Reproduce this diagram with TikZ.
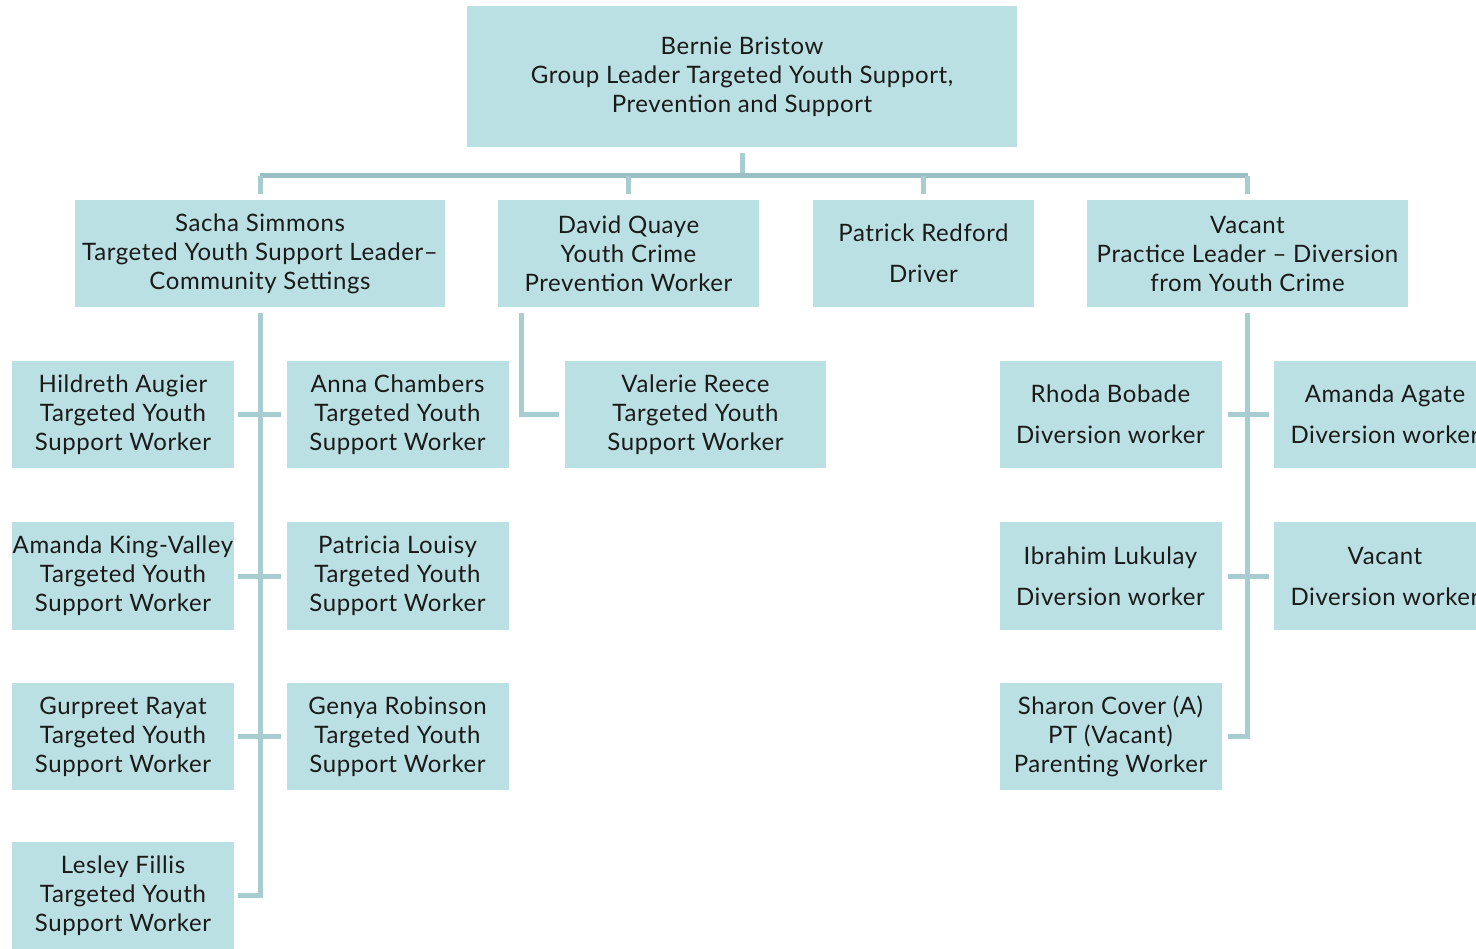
\documentclass[tikz,border=0pt]{standalone}
\usepackage{fontspec}
\setmainfont{Lato}[LetterSpace=2.5]
\definecolor{boxC}{HTML}{BBE0E3}
\definecolor{lineC}{HTML}{A8CDD1}
\definecolor{barC}{HTML}{99BEC3}
\definecolor{txtC}{HTML}{1A1A1A}
\begin{document}
\begin{tikzpicture}[x=1pt,y=-1pt,
  box/.style={fill=boxC,draw=none,inner sep=0pt,align=center,text=txtC,
    font=\fontsize{24}{29}\selectfont},
  conn/.style={draw=lineC,line width=5pt},
  bar/.style={draw=barC,line width=5pt}]
\useasboundingbox (0,0) rectangle (1476,949);
\clip (0,0) rectangle (1476,949);
% level 0
\node[box,minimum width=550pt,minimum height=141pt] (top) at (742,76.5) {Bernie Bristow\\Group Leader Targeted Youth Support,\\Prevention and Support};
% level 1
\node[box,minimum width=370pt,minimum height=107pt] (sacha) at (260,253.5) {Sacha Simmons\\Targeted Youth Support Leader--\\Community Settings};
\node[box,minimum width=261pt,minimum height=107pt] (david) at (628.5,253.5) {David Quaye\\Youth Crime\\Prevention Worker};
\node[box,minimum width=221pt,minimum height=107pt] (patrick) at (923.5,253.5) {Patrick Redford\\[12pt]Driver};
\node[box,minimum width=321pt,minimum height=107pt] (vacant) at (1247.5,253.5) {Vacant\\Practice Leader -- Diversion\\from Youth Crime};
% left group
\tikzset{wk/.style={box,minimum width=222pt,minimum height=107.5pt}}
\node[wk] (hild) at (123,414.5) {Hildreth Augier\\Targeted Youth\\Support Worker};
\node[wk] (anna) at (397.5,414.5) {Anna Chambers\\Targeted Youth\\Support Worker};
\node[wk] (king) at (123,576) {Amanda King-Valley\\Targeted Youth\\Support Worker};
\node[wk] (louisy) at (397.5,576) {Patricia Louisy\\Targeted Youth\\Support Worker};
\node[wk] (rayat) at (123,736.5) {Gurpreet Rayat\\Targeted Youth\\Support Worker};
\node[wk] (genya) at (397.5,736.5) {Genya Robinson\\Targeted Youth\\Support Worker};
\node[wk] (lesley) at (123,895.5) {Lesley Fillis\\Targeted Youth\\Support Worker};
% david group
\node[box,minimum width=261pt,minimum height=107.5pt] (valerie) at (695.5,414.5) {Valerie Reece\\Targeted Youth\\Support Worker};
% right group
\node[wk] (rhoda) at (1110.5,414.5) {Rhoda Bobade\\[12pt]Diversion worker};
\node[wk] (agate) at (1385,414.5) {Amanda Agate\\[12pt]Diversion worker};
\node[wk] (ibrahim) at (1110.5,576) {Ibrahim Lukulay\\[12pt]Diversion worker};
\node[wk] (vac2) at (1385,576) {Vacant\\[12pt]Diversion worker};
\node[wk] (sharon) at (1110.5,736.5) {Sharon Cover (A)\\PT (Vacant)\\Parenting Worker};
% connectors level 0 -> 1
\coordinate (barL) at (260,176);
\draw[conn] ([yshift=-6pt]top.south) -- (top.south |- barL);
\draw[bar] (sacha.north |- barL) -- (vacant.north |- barL);
\foreach \n in {sacha,david,patrick,vacant}
  \draw[conn,shorten >=6pt] (\n.north |- barL) -- (\n.north);
% left spine
\draw[conn] ([yshift=-6pt]sacha.south) |- ([xshift=4pt]lesley.east);
\draw[conn] ([xshift=4pt]hild.east) -- ([xshift=-5pt]anna.west);
\draw[conn] ([xshift=4pt]king.east) -- ([xshift=-5pt]louisy.west);
\draw[conn] ([xshift=4pt]rayat.east) -- ([xshift=-5pt]genya.west);
% david spine
\draw[conn] ([xshift=24pt,yshift=-6pt]david.south west) |- ([xshift=-6pt]valerie.west);
% right spine
\draw[conn] ([yshift=-6pt]vacant.south) |- ([xshift=6pt]sharon.east);
\draw[conn] ([xshift=6pt]rhoda.east) -- ([xshift=-5pt]agate.west);
\draw[conn] ([xshift=6pt]ibrahim.east) -- ([xshift=-5pt]vac2.west);
\end{tikzpicture}
\end{document}
